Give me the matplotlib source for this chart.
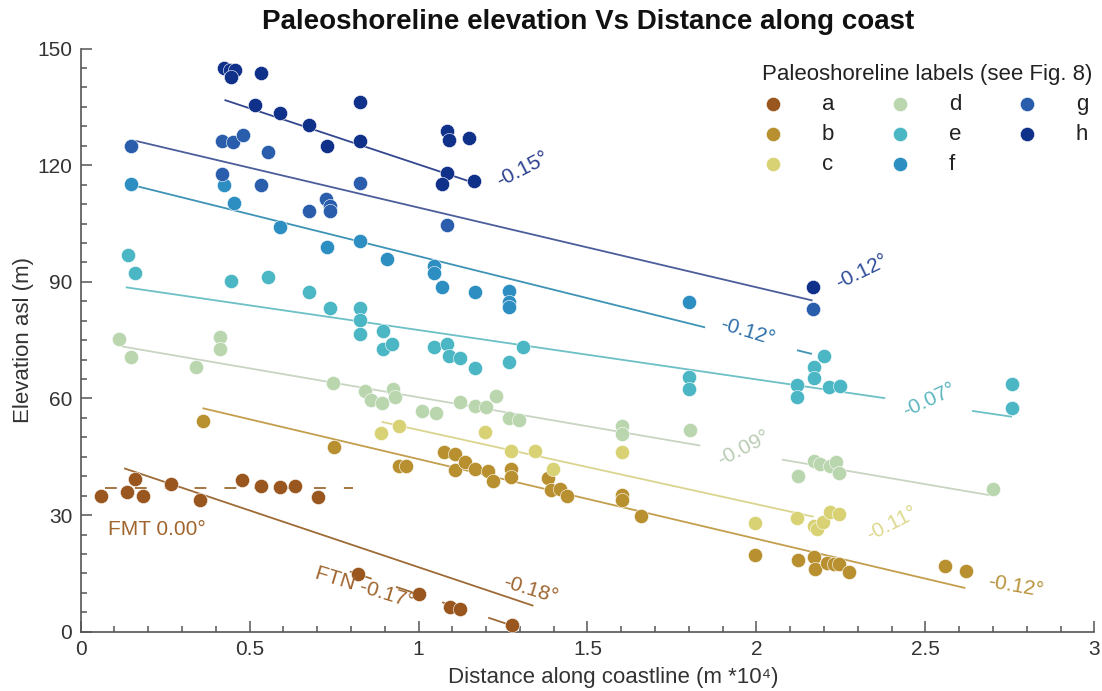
import numpy as np
import matplotlib
matplotlib.use("Agg")
import matplotlib.pyplot as plt
from matplotlib.ticker import MultipleLocator

plt.rcParams['font.family'] = ['Liberation Sans', 'DejaVu Sans']
plt.rcParams['lines.scale_dashes'] = False

# --- Data ---
# x in m * 10^4 along coast, y = elevation asl (m)
labels = ['a', 'b', 'c', 'd', 'e', 'f', 'g', 'h']
colors = ['#99571F', '#B8902F', '#D8D274', '#B9D6AE',
          '#4BB6C4', '#2D8EC2', '#2A5EAD', '#10318A']

a_x = [0.060, 0.136, 0.160, 0.185, 0.269, 0.352, 0.479, 0.535, 0.589, 0.636, 0.702,
       0.820, 1.002, 1.093, 1.124, 1.276]
a_y = [35.0, 36.0, 39.3, 34.8, 38.0, 34.0, 38.9, 37.6, 37.3, 37.4, 34.6,
       14.8, 9.7, 6.3, 5.8, 1.8]

b_x = [0.362, 0.749, 0.943, 0.963, 1.076, 1.108, 1.108, 1.138, 1.167, 1.207, 1.221,
       1.273, 1.275, 1.383, 1.393, 1.419, 1.439, 1.601, 1.601, 1.657, 1.997, 2.122,
       2.171, 2.174, 2.209, 2.228, 2.243, 2.273, 2.558, 2.619]
b_y = [54.1, 47.5, 42.7, 42.7, 46.1, 45.7, 41.7, 43.6, 41.9, 41.4, 38.8,
       41.9, 39.7, 39.5, 36.4, 36.7, 35.0, 35.2, 34.0, 29.8, 19.8, 18.4,
       19.1, 16.1, 17.8, 17.4, 17.4, 15.3, 16.8, 15.5]

c_x = [0.889, 0.943, 1.197, 1.273, 1.344, 1.399, 1.601, 1.995, 2.120, 2.169, 2.179,
       2.197, 2.219, 2.243]
c_y = [51.0, 53.0, 51.5, 46.4, 46.6, 41.9, 46.3, 27.9, 29.2, 27.3, 26.4,
       28.1, 30.7, 30.3]

d_x = [0.113, 0.149, 0.343, 0.412, 0.412, 0.746, 0.843, 0.860, 0.891, 0.924, 0.929,
       1.010, 1.052, 1.123, 1.168, 1.199, 1.229, 1.268, 1.298, 1.601, 1.601, 1.802,
       2.122, 2.169, 2.189, 2.219, 2.236, 2.243, 2.699]
d_y = [75.3, 70.6, 68.2, 75.9, 72.7, 64.0, 61.8, 59.7, 58.8, 62.4, 60.5,
       56.7, 56.2, 59.0, 58.1, 57.9, 60.7, 55.0, 54.5, 53.0, 50.9, 51.8,
       40.0, 43.8, 43.1, 42.7, 43.6, 40.7, 36.7]

e_x = [0.139, 0.160, 0.446, 0.556, 0.675, 0.739, 0.828, 0.828, 0.828, 0.894, 0.894,
       0.922, 1.045, 1.084, 1.091, 1.123, 1.167, 1.268, 1.310, 1.799, 1.799, 2.120,
       2.120, 2.169, 2.169, 2.199, 2.216, 2.246, 2.756, 2.756]
e_y = [97.0, 92.2, 90.1, 91.2, 87.5, 83.3, 83.3, 80.2, 76.6, 77.4, 72.7,
       74.0, 73.3, 74.0, 71.0, 70.3, 67.8, 69.3, 73.3, 65.6, 62.4, 63.5,
       60.5, 68.2, 65.2, 70.8, 63.0, 63.2, 63.7, 57.6]

f_x = [0.149, 0.424, 0.454, 0.589, 0.729, 0.828, 0.907, 1.047, 1.047, 1.069, 1.167,
       1.268, 1.268, 1.268, 1.799]
f_y = [115.2, 115.0, 110.4, 104.2, 98.9, 100.6, 96.0, 94.2, 92.4, 88.6, 87.3,
       87.7, 84.7, 83.4, 84.9]

g_x = [0.149, 0.419, 0.451, 0.481, 0.556, 0.419, 0.535, 0.675, 0.725, 0.737, 0.739,
       0.828, 1.083, 2.167]
g_y = [125.0, 126.1, 125.9, 127.8, 123.3, 117.7, 115.0, 108.1, 111.3, 109.6, 108.1,
       115.3, 104.5, 83.0]

h_x = [0.424, 0.441, 0.456, 0.446, 0.535, 0.517, 0.589, 0.675, 0.729, 0.828, 0.828,
       1.083, 1.091, 1.150, 1.083, 1.069, 1.165, 2.167]
h_y = [145.0, 144.5, 144.5, 142.6, 143.6, 135.6, 133.4, 130.4, 124.9, 136.2, 126.1,
       128.9, 126.5, 127.1, 118.0, 115.2, 116.0, 88.6]

series_x = [a_x, b_x, c_x, d_x, e_x, f_x, g_x, h_x]
series_y = [a_y, b_y, c_y, d_y, e_y, f_y, g_y, h_y]

# regression lines: y = intercept + slope * x, drawn over the given x ranges
fit_intercept = [149.1, 129.6, 118.2, 90.3, 75.2, 71.0, 64.9, 45.8]
fit_slope = [-28.9, -20.5, -21.6, -12.7, -14.9, -19.1, -20.5, -29.2]
fit_ranges = [[(0.426, 1.170)],
              [(0.160, 2.166)],
              [(0.161, 1.848), (2.120, 2.164)],
              [(0.134, 2.381), (2.638, 2.756)],
              [(0.122, 1.834), (2.075, 2.692)],
              [(0.891, 2.169)],
              [(0.361, 2.618)],
              [(0.129, 1.340)]]
fit_text = ['-0.15°', '-0.12°', '-0.12°', '-0.07°', '-0.09°', '-0.11°', '-0.12°', '-0.18°']
fit_line_colors = ['#34468F', '#4B5D9A', '#3E93B6', '#6CC0C6',
                   '#C8D5C2', '#DAD58E', '#C29E4D', '#9E6A35']
fit_text_colors = ['#2B3F8E', '#2F4C98', '#2F6FA8', '#5CB6C0',
                   '#BACCB3', '#DCD88E', '#B8923A', '#9E6530']
fit_text_pos = [(1.308, 118.8), (2.313, 92.6), (1.972, 77.2), (2.510, 59.6),
                (1.962, 47.2), (2.401, 27.9), (2.766, 11.6), (1.330, 10.7)]
fit_text_rot = [27, 26, -17, 25, 27, 27, -10, -17]

# FMT (flat) and FTN dashed lines, shoreline a
fmt_level = 36.9
fmt_range = (0.072, 0.807)
ftn_intercept = 38.6
ftn_slope = -29.0
ftn_range = (0.797, 1.276)

fig = plt.figure(figsize=(11.02, 6.91), dpi=100)
ax = fig.add_axes([0.0731, 0.0858, 0.9200, 0.8439])

# lines first, points on top
for b0, m, rngs, col in zip(fit_intercept, fit_slope, fit_ranges, fit_line_colors):
    for x0, x1 in rngs:
        xs = np.array([x0, x1])
        ax.plot(xs, b0 + m * xs, color=col, lw=1.3, zorder=2, solid_capstyle='butt')

ax.plot(fmt_range, [fmt_level, fmt_level], color='#9E6A35', lw=1.3,
        dashes=(8.5, 13), zorder=2)
xs = np.array(ftn_range)
ax.plot(xs, ftn_intercept + ftn_slope * xs, color='#9E6A35', lw=1.3,
        dashes=(16.5, 18.5), zorder=2)

for xv, yv, col, lab in zip(series_x, series_y, colors, labels):
    ax.scatter(xv, yv, s=105, color=col, edgecolor='white', linewidth=0.4,
               zorder=3, label=lab)

# slope labels
for txt, (tx, ty), rot, col in zip(fit_text, fit_text_pos, fit_text_rot, fit_text_colors):
    ax.text(tx, ty, txt, color=col, fontsize=15, rotation=rot,
            rotation_mode='anchor', ha='center', va='center', zorder=4)
ax.text(0.227, 26.2, 'FMT 0.00°', color='#A0652E', fontsize=15,
        ha='center', va='center', zorder=4)
ax.text(0.842, 11.4, 'FTN -0.17°', color='#A0652E', fontsize=15, rotation=-17,
        rotation_mode='anchor', ha='center', va='center', zorder=4)

ax.set_xlim(0, 3)
ax.set_ylim(0, 150)
ax.xaxis.set_major_locator(MultipleLocator(0.5))
ax.xaxis.set_minor_locator(MultipleLocator(0.1))
ax.yaxis.set_major_locator(MultipleLocator(30))
ax.yaxis.set_minor_locator(MultipleLocator(5))
ax.set_xticks([0, 0.5, 1, 1.5, 2, 2.5, 3])
ax.set_xticklabels(['0', '0.5', '1', '1.5', '2', '2.5', '3'])

for side in ['top', 'right']:
    ax.spines[side].set_visible(False)
for side in ['left', 'bottom']:
    ax.spines[side].set_color('#555555')
    ax.spines[side].set_linewidth(1.2)
ax.tick_params(which='both', direction='in', color='#555555', width=1.1,
               labelsize=15, labelcolor='#333333')
ax.tick_params(which='major', length=8, pad=6)
ax.tick_params(which='minor', length=4)

ax.set_xlabel('Distance along coastline (m *10⁴)', fontsize=16, color='#333333')
ax.xaxis.set_label_coords(0.525, -0.061)
ax.set_ylabel('Elevation asl (m)', fontsize=16, color='#333333', labelpad=2)

fig.text(588 / 1102, 1 - 22 / 691, 'Paleoshoreline elevation Vs Distance along coast',
         ha='center', va='center', fontsize=20, fontweight='bold', color='#111111')

leg = ax.legend(title='Paleoshoreline labels (see Fig. 8)', ncol=3, frameon=False,
                fontsize=16, title_fontsize=16, scatterpoints=1,
                handlelength=1.0, handletextpad=1.7, columnspacing=2.45,
                labelspacing=0.41, borderpad=0, borderaxespad=0,
                loc='upper left', bbox_to_anchor=(762 / 1102, 1 - 64 / 691),
                bbox_transform=fig.transFigure)
leg._legend_box.align = 'left'
for t in leg.get_texts():
    t.set_color('#222222')
leg.get_title().set_color('#222222')

fig.savefig('out.png', dpi=100)
